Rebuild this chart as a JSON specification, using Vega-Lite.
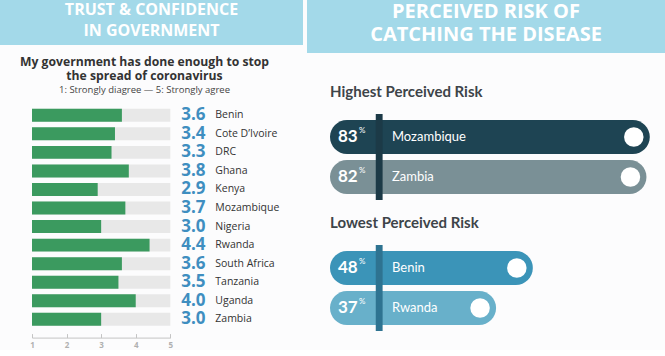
{
  "$schema": "https://vega.github.io/schema/vega-lite/v6.json",
  "background": "#fcfcfd",
  "padding": 0,
  "config": {"view": {"stroke": null}, "font": "Open Sans"},
  "datasets": {
    "trust": [
      {"country": "Benin", "score": 3.6},
      {"country": "Cote D’Ivoire", "score": 3.4},
      {"country": "DRC", "score": 3.3},
      {"country": "Ghana", "score": 3.8},
      {"country": "Kenya", "score": 2.9},
      {"country": "Mozambique", "score": 3.7},
      {"country": "Nigeria", "score": 3.0},
      {"country": "Rwanda", "score": 4.4},
      {"country": "South Africa", "score": 3.6},
      {"country": "Tanzania", "score": 3.5},
      {"country": "Uganda", "score": 4.0},
      {"country": "Zambia", "score": 3.0}
    ],
    "risk": [
      {"group": "Highest Perceived Risk", "country": "Mozambique", "pct": 83},
      {"group": "Highest Perceived Risk", "country": "Zambia", "pct": 82},
      {"group": "Lowest Perceived Risk", "country": "Benin", "pct": 48},
      {"group": "Lowest Perceived Risk", "country": "Rwanda", "pct": 37}
    ]
  },
  "spacing": 4,
  "hconcat": [
    {
      "spacing": 10,
      "vconcat": [
        {
          "width": 303,
          "height": 45,
          "view": {"fill": "#a3d9e9", "stroke": null},
          "data": {"values": [{"line": 1, "text": "TRUST & CONFIDENCE"}, {"line": 2, "text": "IN GOVERNMENT"}]},
          "mark": {"type": "text", "color": "white", "fontWeight": "bold", "fontSize": 16, "align": "center", "baseline": "middle", "dy": -2},
          "encoding": {
            "x": {"datum": 0.5, "type": "quantitative", "scale": {"domain": [0, 1]}, "axis": null},
            "y": {"field": "line", "type": "ordinal", "scale": {"type": "point", "padding": 0.571}, "axis": null},
            "text": {"field": "text"}
          }
        },
        {
          "width": 303,
          "height": 222.6,
          "title": {
            "text": ["My government has done enough to stop", "the spread of coronavirus"],
            "subtitle": "1: Strongly diagree — 5: Strongly agree",
            "anchor": "middle", "frame": "group", "dx": -7,
            "font": "Open Sans", "fontSize": 12.2, "fontWeight": "bold", "color": "#333333", "lineHeight": 14.5,
            "subtitleFont": "Open Sans", "subtitleFontSize": 9.5, "subtitleColor": "#444444", "subtitlePadding": 2,
            "offset": 12
          },
          "data": {"name": "trust"},
          "encoding": {
            "y": {"field": "country", "type": "nominal", "sort": null,
                  "scale": {"paddingInner": 0.3, "paddingOuter": 0.15},
                  "axis": null}
          },
          "layer": [
            {
              "mark": {"type": "bar", "color": "#e8e8e8"},
              "encoding": {
                "x": {"datum": 5, "type": "quantitative", "scale": {"domain": [1, 5], "nice": false, "range": [32, 170.3]},
                      "axis": {"values": [1, 2, 3, 4, 5], "tickCount": 5, "title": null, "grid": false, "labelOverlap": false, "labelBound": false, "labelFlush": false, "domainColor": "#c4c4c4", "tickColor": "#c4c4c4", "tickSize": -4, "labelColor": "#b0b0b0", "labelFontWeight": "bold", "labelFontSize": 8, "labelPadding": 8, "offset": 9}},
                "x2": {"datum": 1}
              }
            },
            {
              "mark": {"type": "bar", "color": "#3b9a5f"},
              "encoding": {"x": {"field": "score", "type": "quantitative",
                      "axis": {"values": [1, 2, 3, 4, 5], "tickCount": 5, "title": null, "grid": false, "labelOverlap": false, "labelBound": false, "labelFlush": false, "domainColor": "#c4c4c4", "tickColor": "#c4c4c4", "tickSize": -4, "labelColor": "#b0b0b0", "labelFontWeight": "bold", "labelFontSize": 8, "labelPadding": 8, "offset": 9}},
                           "x2": {"datum": 1}}
            },
            {
              "mark": {"type": "text", "align": "left", "baseline": "middle", "dx": 11, "fontSize": 17, "fontWeight": "bold", "color": "#3f8ec0"},
              "encoding": {"x": {"datum": 5}, "text": {"field": "score", "type": "quantitative", "format": ".1f"}}
            },
            {
              "mark": {"type": "text", "align": "left", "baseline": "middle", "dx": 45, "fontSize": 10.5, "color": "#333333"},
              "encoding": {"x": {"datum": 5}, "text": {"field": "country"}}
            }
          ]
        }
      ]
    },
    {
      "spacing": 31,
      "vconcat": [
        {
          "width": 358,
          "height": 53,
          "view": {"fill": "#a3d9e9", "stroke": null},
          "data": {"values": [{"line": 1, "text": "PERCEIVED RISK OF"}, {"line": 2, "text": "CATCHING THE DISEASE"}]},
          "mark": {"type": "text", "color": "white", "fontWeight": "bold", "fontSize": 20, "align": "center", "baseline": "middle", "dy": -3},
          "encoding": {
            "x": {"datum": 0.5, "type": "quantitative", "scale": {"domain": [0, 1]}, "axis": null},
            "y": {"field": "line", "type": "ordinal", "scale": {"type": "point", "padding": 0.628}, "axis": null},
            "text": {"field": "text"}
          }
        },
        {
          "spacing": 11,
          "vconcat": [
            {
              "width": 358,
              "height": 86,
              "title": {"text": "Highest Perceived Risk", "anchor": "start", "frame": "group", "dx": 23, "font": "Lato", "fontSize": 15, "fontWeight": "bold", "color": "#3d4449", "offset": 11},
              "data": {"name": "risk"},
              "transform": [{"filter": "datum.group == 'Highest Perceived Risk'"}],
              "layer": [
                {
                  "mark": {"type": "bar", "cornerRadiusEnd": 17},
                  "encoding": {
                    "y": {"field": "country", "type": "nominal", "sort": null,
                          "scale": {"paddingInner": 0.15, "paddingOuter": 0.15}, "axis": null},
                    "x": {"field": "pct", "type": "quantitative", "scale": {"domain": [-12.7, 87.55], "nice": false, "zero": false, "range": [23, 358]}, "axis": null},
                    "x2": {"datum": -12.7},
                    "color": {"field": "country", "type": "nominal", "scale": {"domain": ["Mozambique", "Zambia", "Benin", "Rwanda"], "range": ["#1e4453", "#7a9096", "#3b94b8", "#68b0ca"]}, "legend": null}
                  }
                },
                {
                  "mark": {"type": "point", "shape": "circle", "filled": true, "color": "white", "opacity": 1, "size": 380, "xOffset": -16},
                  "encoding": {"y": {"field": "country", "type": "nominal", "sort": null}, "x": {"field": "pct", "type": "quantitative"}}
                },
                {
                  "mark": {"type": "rule", "strokeWidth": 6.5, "color": "#1c3a47"},
                  "encoding": {"x": {"datum": 2}}
                },
                {
                  "mark": {"type": "text", "align": "left", "baseline": "middle", "dx": 8, "font": "Lato", "fontSize": 17, "fontWeight": "bold", "color": "white"},
                  "encoding": {"y": {"field": "country", "type": "nominal", "sort": null}, "x": {"datum": -12.7}, "text": {"field": "pct"}}
                },
                {
                  "mark": {"type": "text", "align": "left", "baseline": "middle", "dx": 29, "dy": -6, "font": "Lato", "fontSize": 8, "color": "white", "text": "%"},
                  "encoding": {"y": {"field": "country", "type": "nominal", "sort": null}, "x": {"datum": -12.7}}
                },
                {
                  "mark": {"type": "text", "align": "left", "baseline": "middle", "dx": 62, "font": "Lato", "fontSize": 13, "color": "white"},
                  "encoding": {"y": {"field": "country", "type": "nominal", "sort": null}, "x": {"datum": -12.7}, "text": {"field": "country"}}
                }
              ]
            },
            {
              "width": 358,
              "height": 86,
              "title": {"text": "Lowest Perceived Risk", "anchor": "start", "frame": "group", "dx": 23, "font": "Lato", "fontSize": 15, "fontWeight": "bold", "color": "#3d4449", "offset": 11},
              "data": {"name": "risk"},
              "transform": [{"filter": "datum.group == 'Lowest Perceived Risk'"}],
              "layer": [
                {
                  "mark": {"type": "bar", "cornerRadiusEnd": 17},
                  "encoding": {
                    "y": {"field": "country", "type": "nominal", "sort": null,
                          "scale": {"paddingInner": 0.15, "paddingOuter": 0.15}, "axis": null},
                    "x": {"field": "pct", "type": "quantitative", "scale": {"domain": [-12.7, 87.55], "nice": false, "zero": false, "range": [23, 358]}, "axis": null},
                    "x2": {"datum": -12.7},
                    "color": {"field": "country", "type": "nominal", "scale": {"domain": ["Mozambique", "Zambia", "Benin", "Rwanda"], "range": ["#1e4453", "#7a9096", "#3b94b8", "#68b0ca"]}, "legend": null}
                  }
                },
                {
                  "mark": {"type": "point", "shape": "circle", "filled": true, "color": "white", "opacity": 1, "size": 380, "xOffset": -16},
                  "encoding": {"y": {"field": "country", "type": "nominal", "sort": null}, "x": {"field": "pct", "type": "quantitative"}}
                },
                {
                  "mark": {"type": "rule", "strokeWidth": 6.5, "color": "#2e7391"},
                  "encoding": {"x": {"datum": 2}}
                },
                {
                  "mark": {"type": "text", "align": "left", "baseline": "middle", "dx": 8, "font": "Lato", "fontSize": 17, "fontWeight": "bold", "color": "white"},
                  "encoding": {"y": {"field": "country", "type": "nominal", "sort": null}, "x": {"datum": -12.7}, "text": {"field": "pct"}}
                },
                {
                  "mark": {"type": "text", "align": "left", "baseline": "middle", "dx": 29, "dy": -6, "font": "Lato", "fontSize": 8, "color": "white", "text": "%"},
                  "encoding": {"y": {"field": "country", "type": "nominal", "sort": null}, "x": {"datum": -12.7}}
                },
                {
                  "mark": {"type": "text", "align": "left", "baseline": "middle", "dx": 62, "font": "Lato", "fontSize": 13, "color": "white"},
                  "encoding": {"y": {"field": "country", "type": "nominal", "sort": null}, "x": {"datum": -12.7}, "text": {"field": "country"}}
                }
              ]
            }
          ]
        }
      ]
    }
  ]
}
